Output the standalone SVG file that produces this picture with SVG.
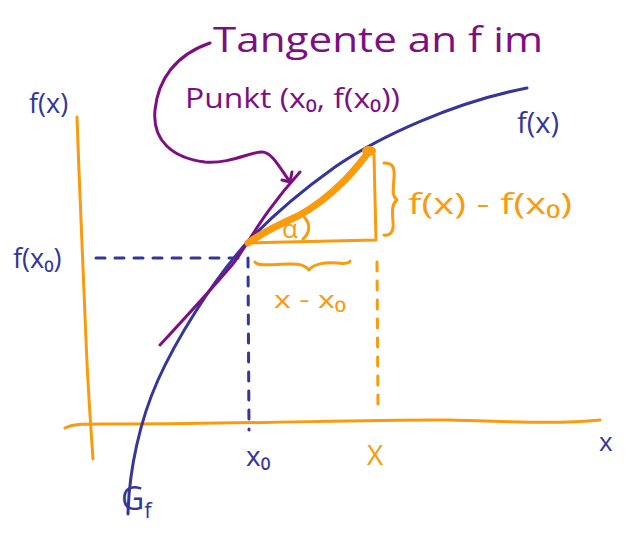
<svg xmlns="http://www.w3.org/2000/svg" width="625" height="544" viewBox="0 0 625 544">
<style>
.o{stroke:#F99B0C;fill:none;stroke-width:3;stroke-linecap:round;stroke-linejoin:round}
.b{stroke:#35359A;fill:none;stroke-width:3;stroke-linecap:round;stroke-linejoin:round}
.p{stroke:#7E0F83;fill:none;stroke-width:3;stroke-linecap:round;stroke-linejoin:round}
.d{stroke-dasharray:9 10}
text{font-family:"Open Sans","DejaVu Sans",sans-serif}
.tb{fill:#35359A}
.to{fill:#F99B0C}
.tp{fill:#7E0F83}
</style>
<rect width="625" height="544" fill="#fff"/>
<g id="axes">
<path class="o" d="M77,117 C80,200 84,300 86,340 C88,390 91,430 93,459"/>
<path class="o" d="M65,428 C75,423 90,424 130,424 C250,424 380,419 450,420 C520,422 560,424 600,420"/>
</g>
<g id="guides">
<path class="b d" d="M96,258 L246,258"/>
<path class="b d" d="M248,258 L249,430"/>
<path class="o d" d="M377,262 L378,408"/>
</g>
<g id="curve">
<path class="b" d="M128,514 C129,470 140,420 158,380 C176,340 210,285 243,247 C270,217 300,192 335,167 C380,136 455,102 527,88"/>
</g>
<g id="tangent">
<path class="p" d="M160,345 C185,318 215,285 232,265 C245,250 260,216 300,172"/>
</g>
<g id="callout">
<path class="p" d="M210,43 C175,55 158,80 155,110 C152,140 172,158 205,162 C230,164 250,152 262,152 C272,152 280,168 290,182"/>
<path class="p" d="M282,180 L290,182 L292,172"/>
<text class="tp" x="213" y="52" font-size="34" textLength="330" lengthAdjust="spacingAndGlyphs">Tangente an f im</text>
<text class="tp" x="185" y="108" font-size="28" textLength="215" lengthAdjust="spacingAndGlyphs">Punkt (x₀, f(x₀))</text>
</g>
<g id="triangle">
<path class="o" d="M248,243 L376,240 L374,155"/>
<path d="M248,243 C265,231 280,224 298,216 C315,207 330,195 345,180 C355,170 362,160 369,152" stroke="#F99B0C" stroke-width="7" fill="none" stroke-linecap="round"/>
<ellipse cx="369" cy="151" rx="7" ry="5" fill="#F99B0C"/>
<path class="o" d="M304,217 C311,224 310,233 303,239"/>
<text class="to" x="282" y="238" font-size="26">α</text>
</g>
<g id="dy-brace">
<path class="o" d="M384,163 C392,163 395,166 394,178 C393,192 392,196 397,200 C392,204 392,210 393,222 C394,232 390,236 384,235"/>
<text class="to" x="408" y="214" font-size="29" textLength="164" lengthAdjust="spacingAndGlyphs">f(x) - f(x₀)</text>
</g>
<g id="dx-brace">
<path class="o" d="M255,262 C258,267 275,264 290,264 C300,264 305,265 309,270 C313,264 325,262 337,263 C345,264 350,263 350,261"/>
<text class="to" x="274" y="308" font-size="24" textLength="72" lengthAdjust="spacingAndGlyphs">x - x₀</text>
</g>
<g id="labels">
<text class="tb" x="29" y="113" font-size="27">f(x)</text>
<text class="tb" x="13" y="268" font-size="27">f(x₀)</text>
<text class="tb" x="517" y="133" font-size="29">f(x)</text>
<text class="tb" x="246" y="466" font-size="28">x₀</text>
<text class="to" x="367" y="465" font-size="28">X</text>
<text class="tb" x="599" y="451" font-size="26">x</text>
<text class="tb" x="121" y="510" font-size="32">G<tspan font-size="22" dy="8">f</tspan></text>
</g>
</svg>
